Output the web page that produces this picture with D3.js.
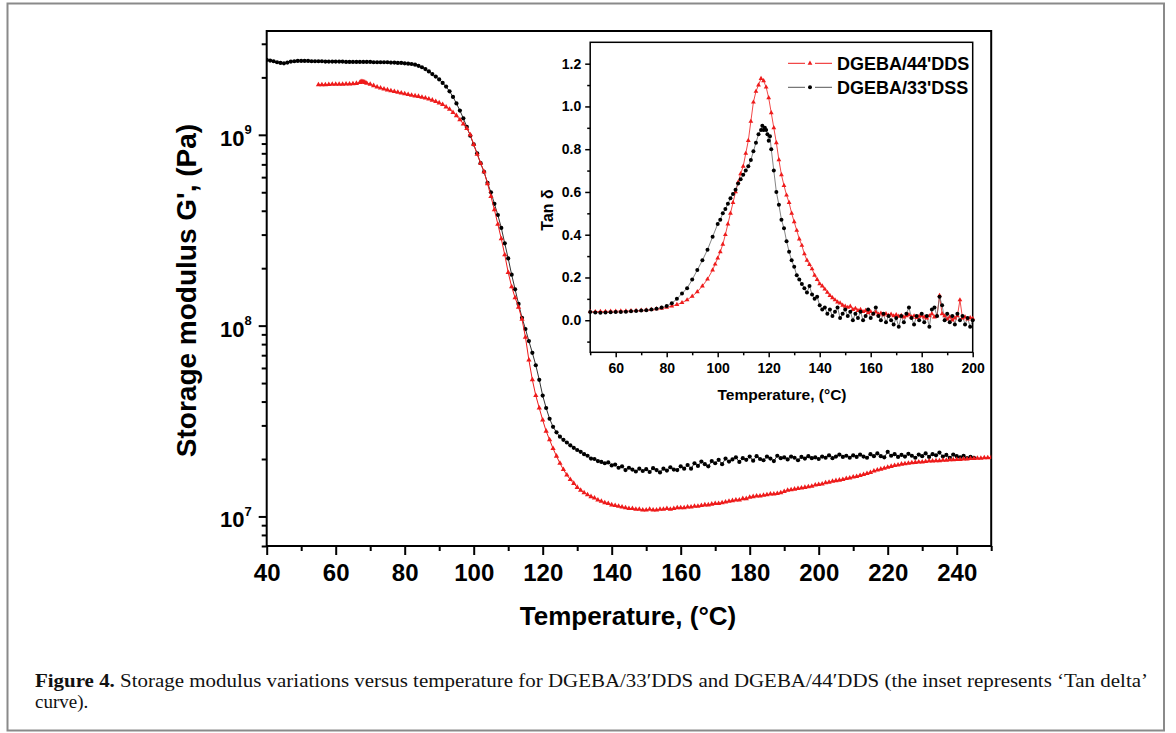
<!DOCTYPE html>
<html><head><meta charset="utf-8">
<script src="https://cdn.jsdelivr.net/npm/d3@7"></script>
<style>body{margin:0;background:#fff}svg{display:block}</style>
</head><body>
<svg id="c" width="1176" height="733"></svg>
<script>
// ---------- DATA ----------
// Main plot: storage modulus G' (MPa) vs temperature (°C)
const mainXTicks = [40,60,80,100,120,140,160,180,200,220,240];
const mainXMinor = [50,70,90,110,130,150,170,190,210,230,250];
const mainYTicks = [1e7,1e8,1e9];
const mainYExp = ["7","8","9"];

const dssMain = [ // DGEBA/33'DSS (black circles), MPa
[40,2470],[41,2450],[42,2430],[43,2400],[44,2380],[45,2370],[46,2390],[47,2420],[48,2430],[49,2440],
[50,2440],[51,2440],[52,2440],[53,2430],[54,2430],[55,2430],[56,2430],[57,2420],[58,2420],[59,2420],
[60,2420],[61,2420],[62,2420],[63,2410],[64,2410],[65,2410],[66,2410],[67,2410],[68,2410],[69,2410],
[70,2410],[71,2400],[72,2400],[73,2400],[74,2400],[75,2400],[76,2390],[77,2390],[78,2380],[79,2380],
[80,2370],[81,2360],[82,2350],[83,2330],[84,2300],[85,2260],[86,2210],[87,2150],[88,2080],[89,2020],
[90,1950],[91,1870],[92,1790],[93,1690],[94,1580],[95,1460],[96,1340],[97,1220],[98,1100],[99,990],
[100,890],[101,800],[102,710],[103,640],[104,560],[105,500],[106,435],[107,380],[108,325],[109,270],
[110,225],[111,185],[112,155],[113,130],[114,110],[115,96],[116,83],[117,72],[118,62],[119,52],
[120,43],[121,37],[122,32.5],[123,29.5],[124,27.6],[125,26.2],[126,25.2],[127,24.4],[128,23.6],[129,22.9],
[130,22.3],[131,21.8],[132,21.2],[133,20.8],[134,20.1],[135,20.0],[136,19.5],[137,19.3],[138,19.0],[139,19.2],
[140,18.5],[141,18.7],[142,18.0],[143,18.3],[144,17.5],[145,18.0],[146,17.6],[147,17.2],[148,17.8],[149,17.3],
[150,17.7],[151,17.1],[152,17.9],[153,17.5],[154,17.0],[155,17.8],[156,17.4],[157,18.1],[158,17.6],[159,17.5],
[160,18.3],[161,17.8],[162,18.6],[163,17.8],[164,19.0],[165,18.4],[166,19.4],[167,18.8],[168,18.3],[169,19.5],
[170,19.0],[171,19.8],[172,18.8],[173,20.1],[174,19.4],[175,19.9],[176,20.4],[177,19.3],[178,20.2],[179,19.8],
[180,20.6],[181,19.6],[182,20.7],[183,20.0],[184,19.7],[185,20.6],[186,20.1],[187,19.5],[188,20.8],[189,20.2],
[190,20.4],[191,19.9],[192,20.6],[193,20.3],[194,19.7],[195,20.5],[196,20.1],[197,20.7],[198,20.2],[199,20.4],
[200,20.0],[201,20.6],[202,20.3],[203,20.9],[204,20.2],[205,20.6],[206,21.1],[207,20.5],[208,20.8],[209,20.3],
[210,20.9],[211,20.5],[212,21.1],[213,20.6],[214,20.3],[215,21.2],[216,20.7],[217,21.4],[218,20.7],[219,20.4],
[220,21.8],[221,20.8],[222,21.2],[223,20.5],[224,21.0],[225,20.6],[226,21.3],[227,20.8],[228,20.3],[229,21.1],
[230,20.7],[231,21.4],[232,20.5],[233,21.2],[234,20.9],[235,21.6],[236,20.6],[237,21.0],[238,20.3],[239,21.1],
[240,20.7],[241,20.4],[242,20.8],[243,20.2],[244,20.5],[245,20.3]];

const ddsMain = [ // DGEBA/44'DDS (red triangles), MPa
[55,1830],[56,1830],[57,1830],[58,1835],[59,1840],[60,1840],[61,1840],[62,1842],[63,1845],[64,1848],
[65,1850],[66,1860],[67,1880],[67.3,1895],[67.6,1900],[67.9,1895],[68.2,1890],[68.5,1880],[69,1865],
[70,1840],[71,1810],[72,1780],[73,1760],[74,1740],[75,1720],[76,1700],[77,1685],[78,1670],[79,1655],
[80,1640],[81,1625],[82,1610],[83,1600],[84,1590],[85,1575],[86,1560],[87,1540],[88,1520],[89,1495],
[90,1470],[91,1440],[92,1400],[93,1360],[94,1310],[95,1260],[96,1200],[97,1140],[98,1080],[99,1000],
[100,890],[101,790],[102,710],[103,640],[104,555],[105,475],[106,405],[107,340],[108,285],[109,235],
[110,190],[111,160],[112,140],[113,125],[114,108],[115,87],[116,66],[117,52],[118,43],[119,37],
[120,32],[121,28],[122,25.2],[123,22.7],[124,20.7],[125,19.0],[126,17.6],[127,16.5],[128,15.6],[129,14.9],
[130,14.2],[131,13.7],[132,13.3],[133,13.0],[134,12.7],[135,12.5],[136,12.2],[137,12.0],[138,11.8],[139,11.7],
[140,11.5],[141,11.4],[142,11.3],[143,11.2],[144,11.1],[145,11.0],[146,11.0],[147,10.9],[148,10.9],[149,10.8],
[150,10.8],[151,10.9],[152,10.8],[153,10.8],[154,10.9],[155,10.9],[156,11.0],[157,10.9],[158,11.0],[159,11.1],
[160,11.1],[161,11.1],[162,11.2],[163,11.2],[164,11.3],[165,11.3],[166,11.4],[167,11.5],[168,11.5],[169,11.6],
[170,11.7],[171,11.7],[172,11.8],[173,11.9],[174,12.0],[175,12.1],[176,12.2],[177,12.2],[178,12.4],[179,12.4],
[180,12.6],[181,12.7],[182,12.8],[183,12.8],[184,12.9],[185,13.0],[186,13.1],[187,13.1],[188,13.2],[189,13.3],
[190,13.5],[191,13.7],[192,13.8],[193,13.9],[194,14.0],[195,14.1],[196,14.2],[197,14.3],[198,14.4],[199,14.6],
[200,14.7],[201,14.8],[202,15.0],[203,15.1],[204,15.3],[205,15.4],[206,15.5],[207,15.6],[208,15.8],[209,15.9],
[210,16.1],[211,16.2],[212,16.4],[213,16.6],[214,16.8],[215,17.0],[216,17.3],[217,17.5],[218,17.7],[219,17.9],
[220,18.1],[221,18.3],[222,18.5],[223,18.6],[224,18.8],[225,18.9],[226,19.0],[227,19.1],[228,19.2],[229,19.3],
[230,19.3],[231,19.4],[232,19.5],[233,19.5],[234,19.6],[235,19.6],[236,19.7],[237,19.7],[238,19.8],[239,19.8],
[240,19.9],[241,19.9],[242,20.0],[243,20.0],[244,20.1],[245,20.1],[246,20.2],[247,20.2],[248,20.3],[249,20.3],[250,20.4]];

// Inset: tan delta vs temperature
const insetXTicks = [60,80,100,120,140,160,180,200];
const insetXMinor = [50,70,90,110,130,150,170,190];
const insetYTicks = [0,0.2,0.4,0.6,0.8,1.0,1.2];
const insetYMinor = [-0.1,0.1,0.3,0.5,0.7,0.9,1.1];

const ddsTan = [ // DGEBA/44'DDS
[50,0.040],[52,0.040],[54,0.041],[56,0.041],[58,0.042],[60,0.042],[62,0.043],[64,0.043],[66,0.044],[68,0.045],
[70,0.046],[72,0.048],[74,0.050],[76,0.053],[78,0.056],[80,0.060],[82,0.066],[84,0.073],[86,0.082],[88,0.095],
[90,0.112],[92,0.133],[94,0.160],[96,0.192],[98,0.235],[99,0.262],[100,0.29],[101,0.32],[102,0.355],[103,0.40],
[104,0.45],[105,0.50],[106,0.55],[107,0.60],[108,0.645],[109,0.685],[110,0.72],[111,0.78],[112,0.84],[113,0.93],
[114,1.02],[115,1.07],[116,1.10],[117,1.13],[118,1.12],[119,1.09],[120,1.04],[121,0.97],[122,0.90],[123,0.83],
[124,0.75],[125,0.68],[126,0.63],[127,0.585],[128,0.55],[129,0.50],[130,0.46],[131,0.42],[132,0.38],[133,0.35],
[134,0.31],[135,0.28],[136,0.26],[137,0.24],[138,0.21],[139,0.19],[140,0.17],[141,0.16],[142,0.145],[143,0.13],
[144,0.115],[145,0.105],[146,0.095],[147,0.085],[148,0.08],[149,0.07],[150,0.065],[151,0.06],[152,0.065],[153,0.05],
[154,0.055],[155,0.045],[156,0.05],[157,0.04],[158,0.045],[159,0.035],[160,0.04],[161,0.03],[162,0.038],[163,0.028],
[164,0.032],[165,0.025],[166,0.03],[167,0.022],[168,0.028],[169,0.02],[170,0.025],[171,0.018],[172,0.022],[173,0.015],
[174,0.02],[175,0.025],[176,0.015],[177,0.02],[178,0.012],[179,0.018],[180,0.022],[181,0.015],[182,0.01],[183,0.02],
[184,0.03],[185,0.015],[186,0.02],[187,0.115],[188,0.03],[189,0.02],[190,0.005],[191,0.015],[192,0.0],[193,0.01],
[194,0.02],[195,0.095],[196,0.01],[197,0.015],[198,0.005],[199,0.012],[200,0.008]];

const dssTan = [ // DGEBA/33'DSS
[50,0.038],[52,0.036],[54,0.035],[56,0.036],[58,0.037],[60,0.038],[62,0.039],[64,0.040],[66,0.042],[68,0.043],
[70,0.045],[72,0.047],[74,0.050],[76,0.054],[78,0.059],[80,0.066],[82,0.079],[84,0.10],[86,0.125],[88,0.15],
[90,0.19],[92,0.235],[94,0.28],[96,0.33],[98,0.39],[100,0.45],[101,0.47],[102,0.50],[103,0.52],[104,0.545],
[105,0.57],[106,0.59],[107,0.61],[108,0.64],[109,0.66],[110,0.68],[111,0.70],[112,0.72],[113,0.75],[114,0.79],
[115,0.83],[116,0.87],[117,0.89],[117.5,0.91],[118,0.89],[118.5,0.90],[119,0.89],[119.5,0.87],[120,0.84],[120.5,0.86],
[121,0.80],[122,0.70],[123,0.60],[124,0.54],[125,0.47],[126,0.43],[127,0.37],[128,0.32],[129,0.28],[130,0.25],
[131,0.21],[132,0.19],[133,0.17],[134,0.15],[135,0.13],[136,0.16],[137,0.12],[138,0.10],[139,0.11],[140,0.07],
[141,0.05],[142,0.06],[143,0.03],[144,0.05],[145,0.02],[146,0.04],[147,0.06],[148,0.01],[149,0.03],[150,0.05],
[151,0.02],[152,0.04],[153,0.0],[154,0.03],[155,0.01],[156,0.04],[157,0.0],[158,0.02],[159,0.05],[160,0.01],
[161,0.03],[162,0.06],[163,0.02],[164,0.0],[165,0.03],[166,-0.01],[167,0.02],[168,0.0],[169,-0.02],[170,0.01],
[171,-0.03],[172,0.02],[173,-0.01],[174,0.03],[175,0.06],[176,0.01],[177,-0.02],[178,0.02],[179,0.0],[180,0.03],
[181,-0.01],[182,0.02],[183,-0.03],[184,0.05],[185,0.06],[186,0.02],[187,0.11],[188,0.07],[189,0.0],[190,0.03],
[191,-0.01],[192,0.02],[193,-0.02],[194,0.03],[195,0.0],[196,0.02],[197,-0.02],[198,0.01],[199,-0.03],[200,0.0]];

const legendNames = ["DGEBA/44'DDS","DGEBA/33'DSS"];
const captionBold = "Figure 4.";
const captionLine1 = " Storage modulus variations versus temperature for DGEBA/33\u2032DDS and DGEBA/44\u2032DDS (the inset represents \u2018Tan delta\u2019";
const captionLine2 = "curve).";

// ---------- DRAW ----------
const FONT = '"Liberation Sans", Arial, Helvetica, sans-serif';
const SERIF = '"Liberation Serif", "Times New Roman", serif';
const RED = "#ee1b1b";
const svg = d3.select("#c");

svg.append("rect").attr("x",7.5).attr("y",3.5).attr("width",1156.5).attr("height",727)
  .attr("fill","#fff").attr("stroke","#8a8a8a").attr("stroke-width",2);

const M = {l:266.7, r:991.2, t:31, b:546};
const x = d3.scaleLinear().domain([40,250]).range([M.l,M.r]);
const y = d3.scaleLog().domain([7e6,3.5e9]).range([M.b,M.t]);

function styleAxis(g, sw){
  g.select(".domain").remove();
  g.selectAll("line").attr("stroke","#000").attr("stroke-width",sw);
}

// main x axis
const gxm = svg.append("g").attr("transform",`translate(0,${M.b})`)
  .call(d3.axisBottom(x).tickValues(mainXMinor).tickSize(5).tickFormat(()=>""));
styleAxis(gxm,2);
const gx = svg.append("g").attr("transform",`translate(0,${M.b})`)
  .call(d3.axisBottom(x).tickValues(mainXTicks).tickSize(9).tickPadding(9).tickFormat(d3.format("d")));
styleAxis(gx,2);
gx.selectAll("text").attr("font-family",FONT).attr("font-size",24).attr("font-weight","bold").attr("fill","#000");

// main y axis (log)
const yMinor = [];
[6,7,8,9].forEach(e=>{ for(let m=2;m<=9;m++){ const v=m*Math.pow(10,e); if(v>=7e6 && v<=3.5e9) yMinor.push(v);} });
const gym = svg.append("g").attr("transform",`translate(${M.l},0)`)
  .call(d3.axisLeft(y).tickValues(yMinor).tickSize(5).tickFormat(()=>""));
styleAxis(gym,2);
const gy = svg.append("g").attr("transform",`translate(${M.l},0)`)
  .call(d3.axisLeft(y).tickValues(mainYTicks).tickSize(8).tickFormat(()=>""));
styleAxis(gy,2);
gy.selectAll(".tick").each(function(d,i){
  const t = d3.select(this).append("text").attr("x",-15).attr("y",10.5)
    .attr("text-anchor","end").attr("font-family",FONT).attr("font-weight","bold").attr("fill","#000");
  t.append("tspan").attr("font-size",22).text("10");
  t.append("tspan").attr("font-size",13).attr("dy",-11.5).text(mainYExp[i]);
});

// frame
svg.append("rect").attr("x",M.l).attr("y",M.t).attr("width",M.r-M.l).attr("height",M.b-M.t)
  .attr("fill","none").attr("stroke","#000").attr("stroke-width",2);

// titles
svg.append("text").attr("transform","translate(196,290.5) rotate(-90)").attr("text-anchor","middle")
  .attr("font-family",FONT).attr("font-size",28).attr("font-weight","bold").text("Storage modulus G', (Pa)");
svg.append("text").attr("x",628).attr("y",625).attr("text-anchor","middle")
  .attr("font-family",FONT).attr("font-size",26).attr("font-weight","bold").text("Temperature, (\u00B0C)");

// main series
svg.append("clipPath").attr("id","mclip").append("rect")
  .attr("x",M.l).attr("y",M.t).attr("width",M.r-M.l).attr("height",M.b-M.t);
const gm = svg.append("g").attr("clip-path","url(#mclip)");
const lineM = d3.line().x(d=>x(d[0])).y(d=>y(d[1]*1e6));
gm.append("path").datum(dssMain).attr("d",lineM).attr("fill","none").attr("stroke","#333").attr("stroke-width",1);
gm.append("g").selectAll("circle").data(dssMain).join("circle")
  .attr("cx",d=>x(d[0])).attr("cy",d=>y(d[1]*1e6)).attr("r",2.1).attr("fill","#000");
gm.append("path").datum(ddsMain).attr("d",lineM).attr("fill","none").attr("stroke",RED).attr("stroke-width",1);
const tri = d3.symbol().type(d3.symbolTriangle).size(12);
gm.append("g").selectAll("path").data(ddsMain).join("path")
  .attr("d",tri).attr("transform",d=>`translate(${x(d[0])},${y(d[1]*1e6)})`).attr("fill",RED);

// ---------- INSET ----------
const I = {l:590.2, r:972.7, t:42.3, b:352.3};
const xi = d3.scaleLinear().domain([50,200]).range([I.l,I.r]);
const yi = d3.scaleLinear().domain([-0.15,1.3]).range([I.b,I.t]);
svg.append("rect").attr("x",I.l).attr("y",I.t).attr("width",I.r-I.l).attr("height",I.b-I.t).attr("fill","#fff");

const gxim = svg.append("g").attr("transform",`translate(0,${I.b})`)
  .call(d3.axisBottom(xi).tickValues(insetXMinor).tickSize(3).tickFormat(()=>""));
styleAxis(gxim,1.5);
const gxi = svg.append("g").attr("transform",`translate(0,${I.b})`)
  .call(d3.axisBottom(xi).tickValues(insetXTicks).tickSize(5).tickPadding(5.5).tickFormat(d3.format("d")));
styleAxis(gxi,1.5);
gxi.selectAll("text").attr("font-family",FONT).attr("font-size",14).attr("font-weight","bold").attr("fill","#000");

const gyim = svg.append("g").attr("transform",`translate(${I.l},0)`)
  .call(d3.axisLeft(yi).tickValues(insetYMinor).tickSize(3).tickFormat(()=>""));
styleAxis(gyim,1.5);
const gyi = svg.append("g").attr("transform",`translate(${I.l},0)`)
  .call(d3.axisLeft(yi).tickValues(insetYTicks).tickSize(5).tickPadding(4).tickFormat(d3.format(".1f")));
styleAxis(gyi,1.5);
gyi.selectAll("text").attr("font-family",FONT).attr("font-size",14).attr("font-weight","bold").attr("fill","#000");

svg.append("rect").attr("x",I.l).attr("y",I.t).attr("width",I.r-I.l).attr("height",I.b-I.t)
  .attr("fill","none").attr("stroke","#000").attr("stroke-width",1.5);

svg.append("text").attr("transform","translate(552.5,210) rotate(-90)").attr("text-anchor","middle")
  .attr("font-family",FONT).attr("font-size",16).attr("font-weight","bold").text("Tan \u03B4");
svg.append("text").attr("x",782).attr("y",400).attr("text-anchor","middle")
  .attr("font-family",FONT).attr("font-size",15.5).attr("font-weight","bold").text("Temperature, (\u00B0C)");

const lineI = d3.line().x(d=>xi(d[0])).y(d=>yi(d[1]));
const gi = svg.append("g");
gi.append("path").datum(ddsTan).attr("d",lineI).attr("fill","none").attr("stroke",RED).attr("stroke-width",0.8);
gi.append("path").datum(dssTan).attr("d",lineI).attr("fill","none").attr("stroke","#666").attr("stroke-width",0.8);
const triI = d3.symbol().type(d3.symbolTriangle).size(10);
gi.append("g").selectAll("path").data(ddsTan).join("path")
  .attr("d",triI).attr("transform",d=>`translate(${xi(d[0])},${yi(d[1])})`).attr("fill",RED);
gi.append("g").selectAll("circle").data(dssTan).join("circle")
  .attr("cx",d=>xi(d[0])).attr("cy",d=>yi(d[1])).attr("r",2).attr("fill","#000");

// legend
const legY = [63.3, 87.3];
const legCol = [RED, "#555"];
legendNames.forEach((name,i)=>{
  const g = svg.append("g");
  g.append("line").attr("x1",788).attr("x2",805).attr("y1",legY[i]).attr("y2",legY[i]).attr("stroke",legCol[i]).attr("stroke-width",1);
  g.append("line").attr("x1",815).attr("x2",832).attr("y1",legY[i]).attr("y2",legY[i]).attr("stroke",legCol[i]).attr("stroke-width",1);
  if(i===0) g.append("path").attr("d",triI).attr("transform",`translate(810,${legY[i]})`).attr("fill",RED);
  else g.append("circle").attr("cx",810).attr("cy",legY[i]).attr("r",2).attr("fill","#000");
  g.append("text").attr("x",837).attr("y",legY[i]+6.4).attr("font-family",FONT).attr("font-size",18)
    .attr("font-weight","bold").attr("fill","#000").text(name);
});

// caption
const cap = svg.append("text").attr("x",35).attr("y",687).attr("font-family",SERIF).attr("font-size",19)
  .attr("textLength",1113).attr("lengthAdjust","spacingAndGlyphs").attr("fill","#111");
cap.append("tspan").attr("font-weight","bold").text(captionBold);
cap.append("tspan").text(captionLine1);
svg.append("text").attr("x",35).attr("y",708).attr("font-family",SERIF).attr("font-size",19).attr("fill","#111").text(captionLine2);
</script>
</body></html>
